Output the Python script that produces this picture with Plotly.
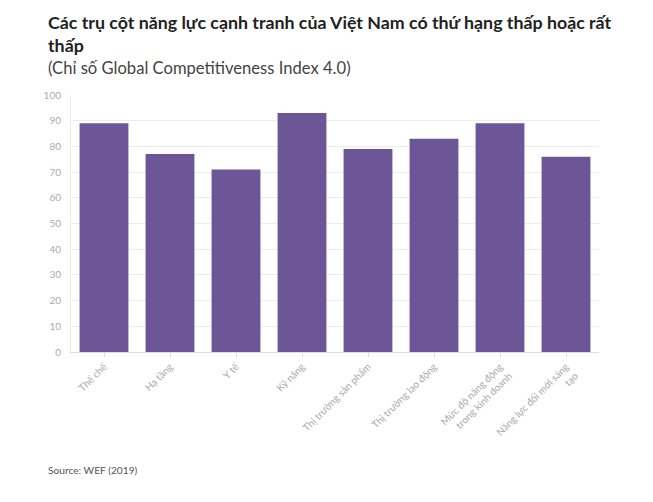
import plotly.graph_objects as go

categories = [
    "Thể chế",
    "Hạ tầng",
    "Y tế",
    "Kỹ năng",
    "Thị trường sản phẩm",
    "Thị trường lao động",
    "Mức độ năng động<br>trong kinh doanh",
    "Năng lực đổi mới sáng<br>tạo",
]
values = [89, 77, 71, 93, 79, 83, 89, 76]
y_ticks = list(range(0, 101, 10))

title = "<b>Các trụ cột năng lực cạnh tranh của Việt Nam có thứ hạng thấp hoặc rất<br>thấp</b>"
subtitle = "(Chỉ số Global Competitiveness Index 4.0)"
source = "Source: WEF (2019)"

font = "Lato, 'Open Sans', sans-serif"

fig = go.Figure()
fig.add_trace(
    go.Bar(
        x=categories,
        y=values,
        marker=dict(color="#6c5697", line=dict(width=0)),
        hoverinfo="x+y",
    )
)

# page body adds an 8px offset, so the figure is a bit smaller than the window
fig.update_layout(
    width=645,
    height=494,
    margin=dict(l=63, r=54, t=87, b=150),
    paper_bgcolor="white",
    plot_bgcolor="white",
    bargap=0.26,
    showlegend=False,
    font=dict(family=font, color="#222"),
    annotations=[
        dict(
            text=title, x=0, y=1, xref="paper", yref="paper", xanchor="left", yanchor="top",
            showarrow=False, align="left", font=dict(size=17.8, color="#222"),
            xshift=-25, yshift=86,
        ),
        dict(
            text=subtitle, x=0, y=1, xref="paper", yref="paper", xanchor="left", yanchor="top",
            showarrow=False, align="left", font=dict(size=16.6, color="#444"),
            xshift=-25, yshift=39,
        ),
        dict(
            text=source, x=0, y=0, xref="paper", yref="paper", xanchor="left", yanchor="top",
            showarrow=False, align="left", font=dict(size=10.2, color="#555"),
            xshift=-25, yshift=-110,
        ),
    ],
)

fig.update_xaxes(
    tickangle=-45,
    tickfont=dict(size=10, color="#aaa"),
    ticks="outside",
    ticklen=4,
    tickcolor="#ddd",
    showline=True,
    linecolor="#ddd",
    showgrid=False,
)
fig.update_yaxes(
    range=[0, 100],
    tickvals=y_ticks,
    tickfont=dict(size=10, color="#aaa"),
    ticklabelstandoff=7,
    gridcolor="#ececec",
    showline=True,
    linecolor="#ececec",
    zeroline=False,
    ticks="",
)

fig.write_html("out.html")
